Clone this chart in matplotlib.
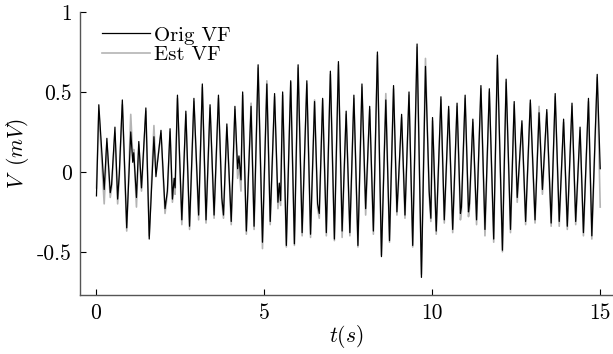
import matplotlib
matplotlib.use("Agg")
import matplotlib.pyplot as plt

plt.rcParams['font.family'] = 'cmr10'
plt.rcParams['mathtext.fontset'] = 'cm'
plt.rcParams['axes.unicode_minus'] = False

# peaks/troughs (time in s, voltage in mV)
t = [0.02, 0.09, 0.25, 0.33, 0.43, 0.47, 0.57, 0.65, 0.70, 0.79,
     0.92, 1.04, 1.10, 1.13, 1.21, 1.28, 1.36, 1.49, 1.59, 1.73,
     1.79, 1.94, 2.06, 2.13, 2.21, 2.28, 2.33, 2.36, 2.43, 2.56,
     2.68, 2.79, 2.92, 3.06, 3.17, 3.28, 3.40, 3.52, 3.65, 3.75,
     3.80, 3.90, 4.03, 4.14, 4.22, 4.26, 4.32, 4.37, 4.48, 4.62,
     4.71, 4.83, 4.96, 5.09, 5.19, 5.32, 5.42, 5.46, 5.50, 5.56,
     5.67, 5.80, 5.91, 6.02, 6.14, 6.28, 6.39, 6.51, 6.60, 6.65,
     6.75, 6.86, 6.98, 7.10, 7.22, 7.33, 7.45, 7.56, 7.68, 7.80,
     7.92, 8.03, 8.15, 8.26, 8.38, 8.50, 8.63, 8.74, 8.86, 8.96,
     9.01, 9.10, 9.20, 9.32, 9.43, 9.56, 9.69, 9.81, 9.92, 9.97,
     10.02, 10.13, 10.27, 10.37, 10.50, 10.62, 10.75, 10.85, 10.88, 10.99,
     11.09, 11.12, 11.22, 11.33, 11.46, 11.58, 11.71, 11.84, 11.95, 12.10,
     12.21, 12.34, 12.45, 12.54, 12.68, 12.79, 12.93, 13.07, 13.19, 13.29,
     13.42, 13.55, 13.67, 13.79, 13.92, 14.03, 14.17, 14.28, 14.41, 14.51,
     14.66, 14.76, 14.92, 15.01]

orig_vf = [-0.15, 0.42, -0.11, 0.21, -0.13, -0.08, 0.28, -0.17, -0.01, 0.45,
           -0.35, 0.25, 0.06, 0.12, -0.16, 0.19, -0.10, 0.40, -0.42, 0.22,
           -0.03, 0.26, -0.23, -0.12, 0.27, -0.17, -0.04, -0.10, 0.48, -0.30,
           0.38, -0.34, 0.46, -0.27, 0.55, -0.30, 0.42, -0.27, 0.48, -0.16,
           -0.27, 0.30, -0.31, 0.41, 0.02, 0.10, -0.05, 0.50, -0.37, 0.41,
           -0.34, 0.67, -0.44, 0.55, -0.31, 0.49, -0.19, -0.07, -0.18, 0.50,
           -0.46, 0.57, -0.45, 0.67, -0.38, 0.57, -0.39, 0.44, -0.20, -0.26,
           0.46, -0.38, 0.63, -0.42, 0.69, -0.37, 0.38, -0.38, 0.48, -0.46,
           0.55, -0.23, 0.41, -0.37, 0.75, -0.53, 0.45, -0.43, 0.54, -0.25,
           -0.04, 0.36, -0.27, 0.50, -0.46, 0.80, -0.66, 0.66, -0.12, -0.29,
           0.34, -0.37, 0.47, -0.30, 0.41, -0.36, 0.43, -0.26, -0.22, 0.48,
           -0.25, -0.20, 0.33, -0.30, 0.54, -0.36, 0.52, -0.42, 0.73, -0.49,
           0.58, -0.36, 0.44, -0.16, 0.32, -0.31, 0.45, -0.30, 0.37, -0.11,
           0.39, -0.32, 0.49, -0.31, 0.33, -0.34, 0.43, -0.31, 0.28, -0.38,
           0.46, -0.40, 0.61, 0.02]

est_vf = [-0.10, 0.38, -0.20, 0.18, -0.16, -0.10, 0.24, -0.20, -0.03, 0.42,
          -0.37, 0.36, 0.10, 0.14, -0.22, 0.17, -0.12, 0.38, -0.40, 0.29,
          0.00, 0.24, -0.26, -0.14, 0.25, -0.19, -0.08, -0.14, 0.46, -0.33,
          0.36, -0.36, 0.44, -0.30, 0.53, -0.32, 0.40, -0.29, 0.46, -0.19,
          -0.29, 0.28, -0.33, 0.39, -0.04, 0.04, -0.12, 0.48, -0.39, 0.43,
          -0.36, 0.65, -0.48, 0.57, -0.33, 0.47, -0.23, -0.10, -0.21, 0.48,
          -0.47, 0.56, -0.46, 0.65, -0.40, 0.55, -0.41, 0.45, -0.23, -0.29,
          0.45, -0.40, 0.61, -0.43, 0.67, -0.41, 0.36, -0.40, 0.46, -0.47,
          0.53, -0.27, 0.39, -0.39, 0.73, -0.52, 0.49, -0.44, 0.52, -0.27,
          -0.07, 0.34, -0.29, 0.48, -0.47, 0.78, -0.64, 0.71, -0.15, -0.31,
          0.32, -0.39, 0.45, -0.32, 0.39, -0.38, 0.41, -0.30, -0.25, 0.46,
          -0.28, -0.23, 0.31, -0.33, 0.52, -0.40, 0.50, -0.44, 0.71, -0.50,
          0.56, -0.38, 0.42, -0.19, 0.30, -0.33, 0.43, -0.32, 0.41, -0.14,
          0.37, -0.34, 0.47, -0.34, 0.31, -0.36, 0.41, -0.33, 0.26, -0.40,
          0.44, -0.42, 0.59, -0.22]

yticks = [-0.5, 0, 0.5, 1]
ytick_labels = ['-0.5', '0', '0.5', '1']
xticks = [0, 5, 10, 15]

fig = plt.figure(figsize=(6.13, 3.54), dpi=100)
ax = fig.add_axes([0.1305, 0.1667, 0.8695, 0.7993])

l_est, = ax.plot(t, est_vf, color='#b4b4b4', lw=1.2, label='Est VF')
l_orig, = ax.plot(t, orig_vf, color='black', lw=0.9, label='Orig VF')

ax.set_xlim(-0.47, 15.39)
ax.set_ylim(-0.77, 1.0)
ax.set_xticks(xticks)
ax.set_xticklabels([str(v) for v in xticks])
ax.set_yticks(yticks)
ax.set_yticklabels(ytick_labels)
ax.tick_params(direction='in', length=4, width=0.8, labelsize=15.5, pad=6)

ax.spines['top'].set_visible(False)
ax.spines['right'].set_visible(False)
for s in ['left', 'bottom']:
    ax.spines[s].set_color('#555555')
    ax.spines[s].set_linewidth(1.0)

ax.set_xlabel('$t(s)$', fontsize=15.5, labelpad=0)
ax.set_ylabel('$V\\;\\;(mV)$', fontsize=15.5, labelpad=4)

ax.legend(handles=[l_orig, l_est], loc='upper left', frameon=False,
          fontsize=15, handlelength=2.3, handletextpad=0.2,
          labelspacing=0.05, borderaxespad=0.0,
          bbox_to_anchor=(0.025, 0.98))

fig.savefig('out.png', dpi=100)
